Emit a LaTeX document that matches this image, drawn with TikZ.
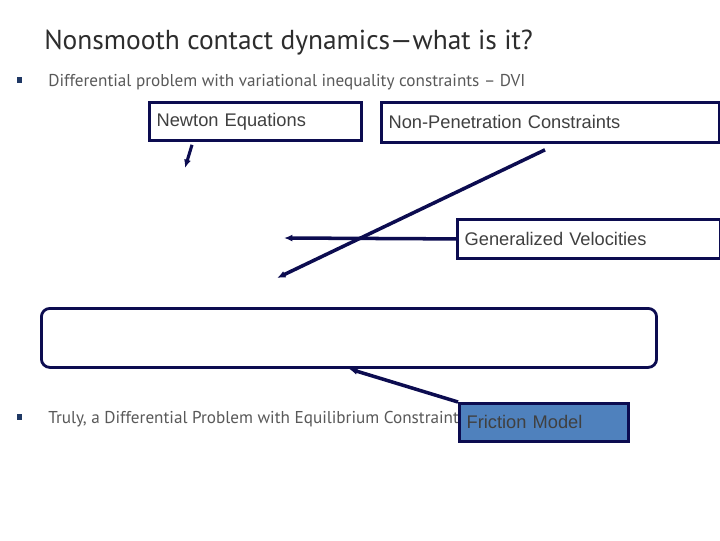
\documentclass[tikz,border=0pt]{standalone}
\usepackage{fontspec}
\setmainfont{Liberation Sans}
\newfontfamily\slidefont{PT Sans}
\usetikzlibrary{arrows.meta,calc}
\definecolor{navy}{RGB}{12,12,80}
\definecolor{boxgray}{RGB}{64,64,64}
\definecolor{titlegray}{RGB}{45,45,45}
\definecolor{bulletgray}{RGB}{89,89,89}
\definecolor{bulletblue}{RGB}{31,56,100}
\definecolor{frictionblue}{RGB}{79,129,189}

\tikzset{
  tbox/.style={draw=navy, line width=2pt, fill=white, anchor=north west, align=left,
    inner xsep=0.18cm, inner ysep=0pt, font=\fontsize{13}{15}\selectfont, text=boxgray},
  flow/.style={navy, line width=2.2pt, -{Latex[length=6pt,width=5pt]}},
  bulletsq/.style={fill=bulletblue, minimum size=4pt, inner sep=0pt},
  bullettext/.style={anchor=base west, inner sep=0pt, font=\slidefont\fontsize{12.2}{14}\selectfont, text=bulletgray}
}

\begin{document}
\begin{tikzpicture}[x=0.025cm,y=-0.025cm]
\fill[white] (0,0) rectangle (720,540);
\useasboundingbox (0,0) rectangle (720,540);

\node[anchor=base west, inner sep=0pt, font=\slidefont\fontsize{19.5}{22}\selectfont, text=titlegray] (title) at (44,49) {Nonsmooth contact dynamics—what is it?};

\node[bulletsq] (b1) at (19.5,80) {};
\node[bullettext] (dvitext) at (48,86) {Differential problem with variational inequality constraints – DVI};
\node[bulletsq] (b2) at (19.5,417) {};
\node[bullettext] (dpectext) at (48,423) {Truly, a Differential Problem with Equilibrium Constraints};

\node[tbox, minimum width=5.3cm, minimum height=0.95cm, text width=4.94cm] (newton) at (148,101) {Newton Equations};
\node[tbox, minimum width=8.45cm, minimum height=1cm, text width=8.09cm] (nonpen) at (380,101) {Non-Penetration Constraints};
\node[tbox, minimum width=6.575cm, minimum height=0.975cm, text width=6.215cm] (genvel) at (456,218) {Generalized Velocities};
\node[draw=navy, line width=2pt, rounded corners=6pt, anchor=north west, minimum width=15.375cm, minimum height=1.475cm] (dvi) at (40,307) {};
\node[tbox, fill=frictionblue, minimum width=4.225cm, minimum height=0.95cm, text width=3.865cm] (friction) at (458,402) {Friction Model};

\coordinate (newtonend) at (185,168);
\coordinate (nonpenend) at (277,278);
\coordinate (velend) at (284,238);

\draw[flow] ($(newton.south west)+(44,3)$) -- (newtonend);
\draw[flow, line width=2.5pt] ($(nonpen.south west)+(165,6)$) -- (nonpenend);
\draw[flow, line width=2.5pt] (genvel.west) -- (velend);
\draw[flow, line width=2.5pt] (friction.north west) -- ($(dvi.south west)+(309,0)$);

\end{tikzpicture}
\end{document}
